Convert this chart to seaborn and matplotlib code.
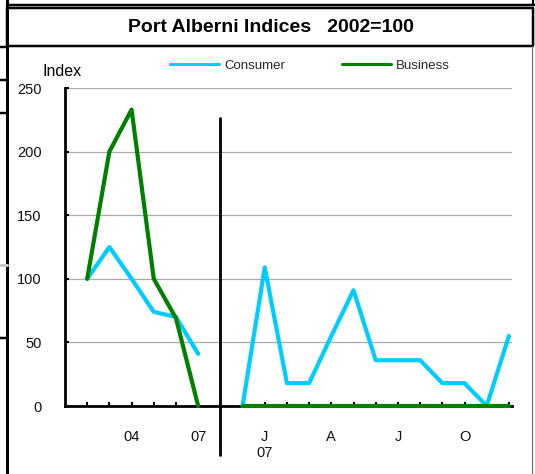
import numpy as np
import pandas as pd
import matplotlib
matplotlib.use("Agg")
import matplotlib.pyplot as plt
import seaborn as sns

# ---- data ----
annual_labels = ['02', '03', '04', '05', '06', '07']
annual_tick_labels = ['', '', '04', '', '', '07']
consumer_annual = [100, 125, 100, 74, 70, 41]
business_annual = [100, 200, 233, 100, 69, 0]

monthly_labels = ['D06', 'J07', 'F07', 'M07', 'A07', 'M07', 'J07', 'J07', 'A07', 'S07', 'O07', 'N07', 'D07']
monthly_tick_labels = ['', 'J\n07', '', '', 'A', '', '', 'J', '', '', 'O', '', '']
consumer_monthly = [0, 109, 18, 18, 55, 91, 36, 36, 36, 18, 18, 0, 55]
business_monthly = [0, 0, 0, 0, 0, 0, 0, 0, 0, 0, 0, 0, 0]

series_names = ['Consumer', 'Business']
colors = {'Consumer': '#00CCFF', 'Business': '#008000'}
y_ticks = [0, 50, 100, 150, 200, 250]

# category positions: annual block, one empty slot, then monthly block
annual_pos = np.arange(1, len(annual_labels) + 1)
gap_pos = len(annual_labels) + 1
monthly_pos = np.arange(gap_pos + 1, gap_pos + 1 + len(monthly_labels))

rows = []
for name, a_vals, m_vals in [('Consumer', consumer_annual, consumer_monthly),
                             ('Business', business_annual, business_monthly)]:
    for p, v in zip(annual_pos, a_vals):
        rows.append({'pos': p, 'value': v, 'series': name, 'segment': 'annual'})
    for p, v in zip(monthly_pos, m_vals):
        rows.append({'pos': p, 'value': v, 'series': name, 'segment': 'monthly'})
df = pd.DataFrame(rows)

sns.set_theme(style='white')
plt.rcParams['font.family'] = ['Liberation Sans', 'DejaVu Sans']

W, H = 535, 474
fig = plt.figure(figsize=(W / 100, H / 100), dpi=100)

# ---- background / frame overlay in pixel coordinates ----
bg = fig.add_axes([0, 0, 1, 1])
bg.set_xlim(0, W)
bg.set_ylim(H, 0)
bg.axis('off')
bg.set_zorder(0)

def px(v):
    return v * 0.72

bg.plot([7, 535], [5, 5], color='black', lw=px(2.5))
bg.plot([533, 533], [0, 5], color='black', lw=px(2))
bg.plot([7, 7], [0, H], color='black', lw=px(3))
# title box
bg.plot([7, 533, 533, 7, 7], [8, 8, 46, 46, 8], color='black', lw=px(2.5))
# chart area right border
bg.plot([532, 532], [46, H], color='#707070', lw=px(1.2))
# spreadsheet cell stubs on the left
for yy in [47, 80, 113, 338]:
    bg.plot([0, 7], [yy, yy], color='black', lw=px(2.5))
bg.plot([0, 7], [265, 265], color='#C8C8C8', lw=px(3))

bg.text(271, 27, 'Port Alberni Indices   2002=100', ha='center', va='center',
        fontsize=14, fontweight='bold', color='black')
bg.text(43, 71, 'Index', ha='left', va='center', fontsize=11.5, color='black')

# ---- main plot ----
left_px, right_px, top_px, bottom_px = 65, 512, 88, 406
ax = fig.add_axes([left_px / W, 1 - bottom_px / H,
                   (right_px - left_px) / W, (bottom_px - top_px) / H])
ax.set_zorder(1)
ax.patch.set_alpha(0)

sns.lineplot(data=df, x='pos', y='value', hue='series', units='segment',
             estimator=None, palette=colors, hue_order=series_names,
             linewidth=3, ax=ax, sort=True, legend=True, clip_on=False,
             solid_capstyle='round', solid_joinstyle='round')

# x-axis: categories
all_pos = np.concatenate([annual_pos, [gap_pos], monthly_pos])
all_labels = annual_tick_labels + [''] + monthly_tick_labels
ax.set_xticks(all_pos)
ax.set_xticklabels(all_labels)
ax.set_xlim(0, monthly_pos[-1] + 0.14)
ax.set_ylim(0, 250)
ax.set_yticks(y_ticks)
ax.set_yticklabels([str(t) for t in y_ticks])

ax.grid(axis='y', color='#A8A8A8', linewidth=0.9)
ax.grid(axis='x', visible=False)
ax.set_axisbelow(True)

for s in ['top', 'right']:
    ax.spines[s].set_visible(False)
for s in ['left', 'bottom']:
    ax.spines[s].set_color('black')
    ax.spines[s].set_linewidth(2)
    ax.spines[s].set_zorder(1.5)

ax.tick_params(axis='x', direction='in', length=3, width=1.5, color='black',
               labelsize=10.5, pad=17, labelcolor='#111111', bottom=True)
ax.tick_params(axis='y', direction='in', length=3, width=1.5, color='black',
               labelsize=10.5, pad=17, labelcolor='#111111', left=True)
for lab in ax.get_xticklabels():
    lab.set_linespacing(1.2)

ax.set_xlabel('')
ax.set_ylabel('')

# divider between annual and monthly blocks
ax.axvline(gap_pos, ymin=-0.154, ymax=0.906, color='black', lw=2, clip_on=False, zorder=3)

# legend
leg = ax.legend(loc='center left', bbox_to_anchor=(170 / W, 1 - 66 / H),
                bbox_transform=fig.transFigure, ncol=2, frameon=False,
                fontsize=9.5, handlelength=3.7, handletextpad=0.4,
                columnspacing=4.3, borderpad=0, borderaxespad=0)
for line in leg.get_lines():
    line.set_linewidth(2.2)

fig.savefig('out.png', dpi=100, facecolor='white')
